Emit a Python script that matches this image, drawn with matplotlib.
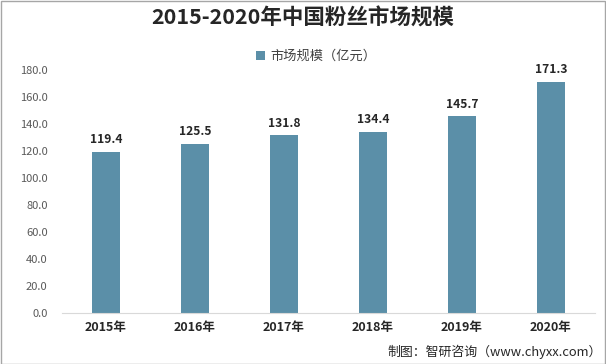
import matplotlib
matplotlib.use("Agg")
import matplotlib.pyplot as plt
from matplotlib.patches import Rectangle

plt.rcParams['font.family'] = ['Noto Sans CJK SC', 'DejaVu Sans']

years = ["2015年", "2016年", "2017年", "2018年", "2019年", "2020年"]
values = [119.4, 125.5, 131.8, 134.4, 145.7, 171.3]
yticks = [0, 20, 40, 60, 80, 100, 120, 140, 160, 180]

bar_color = "#5B8FA8"

fig = plt.figure(figsize=(6.06, 3.64), dpi=100)
ax = fig.add_axes([0.1015, 0.1401, 0.881, 0.6676])

x = list(range(len(years)))
bars = ax.bar(x, values, width=0.31, color=bar_color, label="市场规模（亿元）")

# value labels above bars
for xi, v in zip(x, values):
    ax.text(xi, v + 4, f"{v:.1f}", ha="center", va="bottom",
            fontsize=8.7, fontweight="bold", color="#262626")

ax.set_xlim(-0.5, len(years) - 0.5)
ax.set_ylim(0, 180)
ax.set_yticks(yticks)
ax.set_yticklabels([f"{t:.1f}" for t in yticks], fontsize=8, color="#595959")
ax.set_xticks(x)
ax.set_xticklabels(years, fontsize=9, fontweight="bold", color="#262626")
ax.tick_params(axis="both", length=0, pad=6)
ax.tick_params(axis="y", pad=10)

for side in ["top", "right", "left"]:
    ax.spines[side].set_visible(False)
ax.spines["bottom"].set_color("#D9D9D9")

fig.text(0.5, 0.95, "2015-2020年中国粉丝市场规模", ha="center", va="center",
         fontsize=15.5, fontweight="bold", color="#262626")

leg = fig.legend(handles=[bars], labels=["市场规模（亿元）"], loc="center",
                 bbox_to_anchor=(0.522, 0.845), frameon=False, fontsize=9.5,
                 handlelength=0.7, handleheight=0.7, handletextpad=0.4)
for t in leg.get_texts():
    t.set_color("#404040")

fig.text(0.993, 0.033, "制图：智研咨询（www.chyxx.com）", ha="right", va="center",
         fontsize=9.3, color="#262626")

# light grey frame around the whole figure
fig.patches.append(Rectangle((0.001, 0.001), 0.997, 0.996, transform=fig.transFigure,
                             fill=False, edgecolor="#A6A6A6", linewidth=1))

fig.savefig("out.png", dpi=100)
